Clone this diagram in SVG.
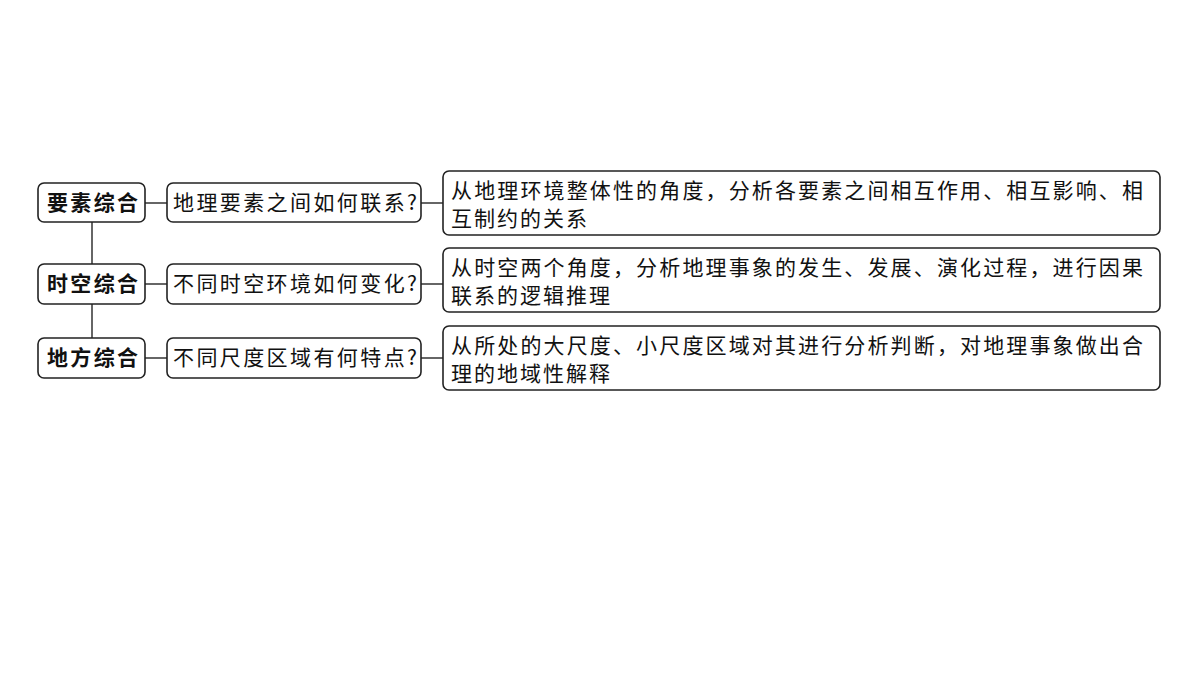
<svg xmlns="http://www.w3.org/2000/svg" width="1200" height="675" viewBox="0 0 1200 675">
<style>
.box{fill:#fff;stroke:#222;stroke-width:1.6}
.ln{stroke:#333;stroke-width:1.5;fill:none}
.t{font-family:"Noto Sans CJK SC","Liberation Sans",sans-serif;font-size:21px;fill:#111}
.b{font-weight:bold}
</style>
<rect width="1200" height="675" fill="#fff"/>
<g id="connectors">
<line class="ln" x1="92" y1="222" x2="92" y2="264"/>
<line class="ln" x1="92" y1="304" x2="92" y2="338"/>
<line class="ln" x1="145" y1="203" x2="167" y2="203"/>
<line class="ln" x1="145" y1="284" x2="167" y2="284"/>
<line class="ln" x1="145" y1="358" x2="167" y2="358"/>
<line class="ln" x1="421" y1="203" x2="443" y2="203"/>
<line class="ln" x1="421" y1="284" x2="443" y2="284"/>
<line class="ln" x1="421" y1="358" x2="443" y2="358"/>
</g>
<g id="n1">
<rect class="box" x="38" y="183" width="107" height="39" rx="6"/>
<text class="t b" x="47" y="210" textLength="91" lengthAdjust="spacing">要素综合</text>
</g>
<g id="n2">
<rect class="box" x="38" y="264" width="107" height="40" rx="6"/>
<text class="t b" x="47" y="291" textLength="91" lengthAdjust="spacing">时空综合</text>
</g>
<g id="n3">
<rect class="box" x="38" y="338" width="107" height="40" rx="6"/>
<text class="t b" x="47" y="365" textLength="91" lengthAdjust="spacing">地方综合</text>
</g>
<g id="q1">
<rect class="box" x="167" y="183" width="254" height="39" rx="6"/>
<text class="t" x="173" y="210" textLength="244" lengthAdjust="spacing">地理要素之间如何联系?</text>
</g>
<g id="q2">
<rect class="box" x="167" y="264" width="254" height="40" rx="6"/>
<text class="t" x="173" y="291" textLength="244" lengthAdjust="spacing">不同时空环境如何变化?</text>
</g>
<g id="q3">
<rect class="box" x="167" y="338" width="254" height="40" rx="6"/>
<text class="t" x="173" y="365" textLength="244" lengthAdjust="spacing">不同尺度区域有何特点?</text>
</g>
<g id="d1">
<rect class="box" x="443" y="171" width="717" height="64" rx="6"/>
<text class="t" x="451" y="198" textLength="692" lengthAdjust="spacing">从地理环境整体性的角度，分析各要素之间相互作用、相互影响、相</text>
<text class="t" x="451" y="226" textLength="136" lengthAdjust="spacing">互制约的关系</text>
</g>
<g id="d2">
<rect class="box" x="443" y="248" width="717" height="64" rx="6"/>
<text class="t" x="451" y="275" textLength="692" lengthAdjust="spacing">从时空两个角度，分析地理事象的发生、发展、演化过程，进行因果</text>
<text class="t" x="451" y="303" textLength="159" lengthAdjust="spacing">联系的逻辑推理</text>
</g>
<g id="d3">
<rect class="box" x="443" y="326" width="717" height="64" rx="6"/>
<text class="t" x="451" y="353" textLength="692" lengthAdjust="spacing">从所处的大尺度、小尺度区域对其进行分析判断，对地理事象做出合</text>
<text class="t" x="451" y="381" textLength="159" lengthAdjust="spacing">理的地域性解释</text>
</g>
</svg>
